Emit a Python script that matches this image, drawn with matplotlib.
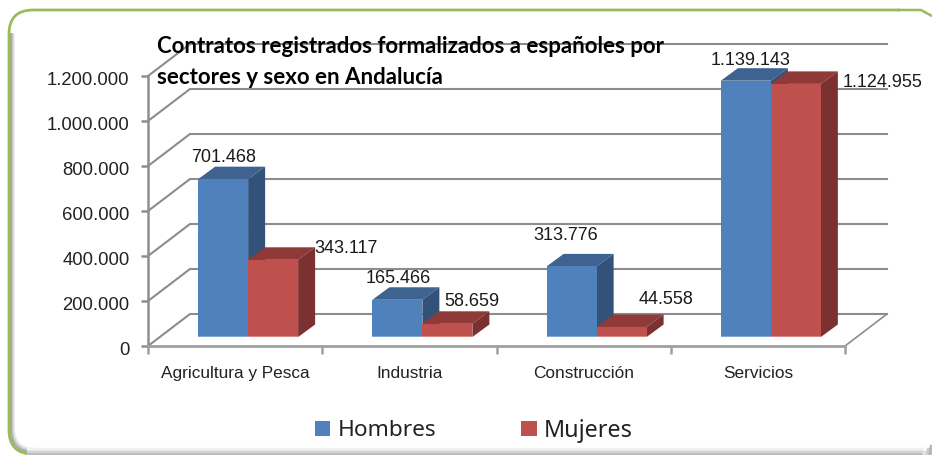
import matplotlib
matplotlib.use("Agg")
import matplotlib.pyplot as plt
from matplotlib.patches import FancyBboxPatch, Polygon, Rectangle
from matplotlib.transforms import ScaledTranslation

categories = ["Agricultura y Pesca", "Industria", "Construcción", "Servicios"]
hombres = [701468, 165466, 313776, 1139143]
mujeres = [343117, 58659, 44558, 1124955]
hombres_txt = ["701.468", "165.466", "313.776", "1.139.143"]
mujeres_txt = ["343.117", "58.659", "44.558", "1.124.955"]
yticks = [0, 200000, 400000, 600000, 800000, 1000000, 1200000]
ylabels = ["0", "200.000", "400.000", "600.000", "800.000", "1.000.000", "1.200.000"]
title = "Contratos registrados formalizados a españoles por\nsectores y sexo en Andalucía"

W, H = 932, 456
fig = plt.figure(figsize=(W / 100, H / 100), dpi=100, facecolor="white")

# panel frame, in pixels
bg = fig.add_axes([0, 0, 1, 1], zorder=0)
bg.set_xlim(0, W); bg.set_ylim(H, 0); bg.axis("off")
clip = Rectangle((0, 34), W, H, transform=bg.transData)
for off, col, lw in [(5, "#f0f0f0", 1.5), (4, "#dedede", 1.5), (3, "#c6c6c6", 1.5), (2, "#a8a8a8", 1.5)]:
    p = FancyBboxPatch((9 + off, 12), 925 - 9 - off, 443 - off,
                       boxstyle="round,pad=0,rounding_size=22", fc="none", ec=col, lw=lw)
    bg.add_patch(p)
    p.set_clip_path(clip)
bg.add_patch(FancyBboxPatch((9, 11), 918, 444, boxstyle="round,pad=0,rounding_size=24",
                            fc="none", ec="#9BBB59", lw=2.0, zorder=2))
# hide the right side and the bottom run of the green outline
bg.add_patch(Rectangle((900, 0), 33, 457, fc="white", ec="none", zorder=3))
bg.add_patch(Rectangle((27, 450), 900, 7, fc="white", ec="none", zorder=3))
bg.plot([899, 921, 932], [11, 11, 17], color="#9BBB59", lw=1.8, zorder=4)
for y, col in [(450.5, "#f2f2f2"), (452, "#e6e6e6"), (453.5, "#d6d6d6"), (455, "#bdbdbd")]:
    bg.plot([27, 924], [y, y], color=col, lw=1.6, solid_capstyle="butt", zorder=4)
for x, col in [(924, "#e6e6e6"), (927, "#d0d0d0"), (930, "#b8b8b8")]:
    bg.plot([x, x + 2], [456, 456 - (x - 920)], color=col, lw=3, solid_capstyle="butt", zorder=4)

# plot area = front plane
L, R, T, B = 148, 845, 77, 347
ax = fig.add_axes([L / W, 1 - B / H, (R - L) / W, (B - T) / H], zorder=1)
ax.set_xlim(0, 4); ax.set_ylim(0, 1200000)
ax.patch.set_alpha(0)
for s in ax.spines.values():
    s.set_visible(False)

ux = 4 / (R - L)          # data units per pixel
uy = 1200000 / (B - T)
wall_dx, wall_dy = 42 * ux, 32 * uy
bar_dx, bar_dy = 17 * ux, 12.5 * uy
base_dx, base_dy = 13 * ux, 9 * uy
bw = 50 * ux

GRID = "#8c8c8c"
for v in yticks:
    ax.plot([0, wall_dx, 4 + wall_dx], [v, v + wall_dy, v + wall_dy],
            color=GRID, lw=1.5, clip_on=False, zorder=1, solid_joinstyle="miter")
ax.plot([4, 4 + wall_dx], [0, wall_dy], color=GRID, lw=1.2, clip_on=False, zorder=1)
ax.plot([0, 0], [0, 1200000], color="#8f8f8f", lw=1.8, clip_on=False, zorder=2)
ax.plot([0, 4], [0, 0], color="#a0a0a0", lw=2, clip_on=False, zorder=2)


def bar3d(x0, v, front, top, side, light):
    y0 = base_dy
    y1 = y0 + v
    x1 = x0 + bw
    ax.add_patch(Polygon([(x0, y1), (x1, y1), (x1 + bar_dx, y1 + bar_dy), (x0 + bar_dx, y1 + bar_dy)],
                         fc=top, ec="none", clip_on=False, zorder=4))
    ax.add_patch(Polygon([(x1, y0), (x1 + bar_dx, y0 + bar_dy), (x1 + bar_dx, y1 + bar_dy), (x1, y1)],
                         fc=side, ec="none", clip_on=False, zorder=4))
    ax.bar(x0, v, width=bw, bottom=y0, align="edge", color=front, clip_on=False, zorder=5)
    ax.bar(x0, 1.5 * uy, width=bw, bottom=y0, align="edge", color=light, clip_on=False, zorder=6)


for i in range(4):
    c = i + 0.5 + base_dx
    bar3d(c - bw, hombres[i], "#4F81BD", "#3E6390", "#32527A", "#7FA6D6")
for i in range(4):
    c = i + 0.5 + base_dx
    bar3d(c, mujeres[i], "#C0504D", "#8F3A38", "#7B3130", "#D98683")

ax.set_xticks([0, 1, 2, 3, 4])
ax.set_xticklabels([])
ax.set_yticks(yticks)
ax.set_yticklabels(ylabels, fontfamily="Liberation Sans", fontsize=13.3, color="#222222")
ax.tick_params(axis="y", length=5, width=1.8, color="#8f8f8f", pad=8.3)
ax.tick_params(axis="x", length=6, width=1.8, color="#a0a0a0")
for lab in ax.get_yticklabels():
    lab.set_transform(lab.get_transform() + ScaledTranslation(0, -1.5 / 100, fig.dpi_scale_trans))

for i, name in enumerate(categories):
    ax.annotate(name, xy=(i + 0.5, 0), xytext=(0, -27), textcoords="offset pixels",
                ha="center", va="center", fontfamily="Liberation Sans", fontsize=12.4, color="#222222")

# data labels: pixel offsets from each bar's top centre
off_h = [(0, 23), (1, 22), (-6, 32), (5, 21)]
off_m = [(73, 12), (24, 23), (44, 28), (87, 2)]
for i in range(4):
    c = i + 0.5 + base_dx
    ax.annotate(hombres_txt[i], xy=(c - bw / 2, base_dy + hombres[i]), xytext=off_h[i],
                textcoords="offset pixels", ha="center", va="center",
                fontfamily="Liberation Sans", fontsize=13, color="#1a1a1a", zorder=8)
    ax.annotate(mujeres_txt[i], xy=(c + bw / 2, base_dy + mujeres[i]), xytext=off_m[i],
                textcoords="offset pixels", ha="center", va="center",
                fontfamily="Liberation Sans", fontsize=13, color="#1a1a1a", zorder=8)

fig.text(157 / W, 1 - 36 / H, title, ha="left", va="top", fontfamily="Lato", fontweight="bold",
         fontsize=16, color="black", linespacing=1.58, zorder=5)

# legend
bg.add_patch(Rectangle((315, 422), 15, 15, fc="#4F81BD", ec="none"))
bg.add_patch(Rectangle((521, 422), 16, 15, fc="#C0504D", ec="none"))
bg.text(338, 431, "Hombres", fontfamily="Noto Sans", fontsize=16.3, va="center", ha="left", color="#222222")
bg.text(544, 431, "Mujeres", fontfamily="Noto Sans", fontsize=16.8, va="center", ha="left", color="#222222")

fig.savefig("out.png", dpi=100)
